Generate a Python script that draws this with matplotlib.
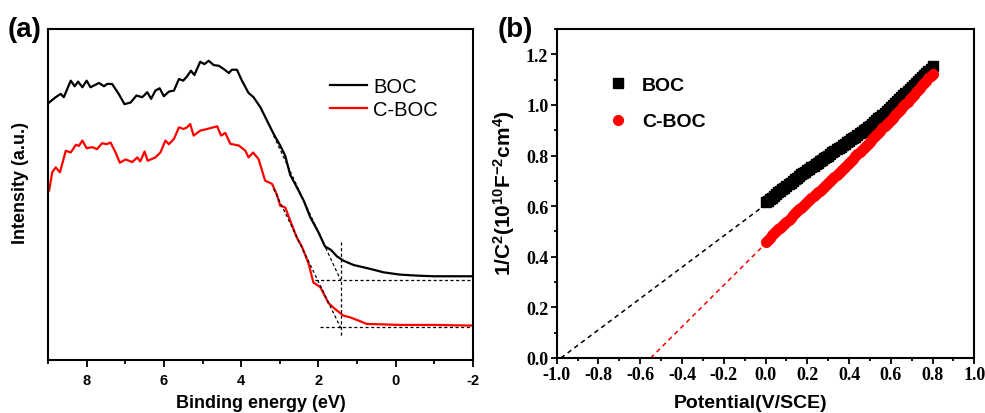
import matplotlib
matplotlib.use("Agg")
import matplotlib.pyplot as plt
from matplotlib.ticker import MultipleLocator, FormatStrFormatter

plt.rcParams["font.family"] = ["Liberation Sans", "DejaVu Sans"]
plt.rcParams["axes.unicode_minus"] = False
plt.rcParams["mathtext.fontset"] = "custom"
plt.rcParams["mathtext.rm"] = "Liberation Sans:bold"
plt.rcParams["mathtext.bf"] = "Liberation Sans:bold"
plt.rcParams["mathtext.default"] = "bf"

# ---- (a) valence band XPS spectra ----
boc_energy = [8.97, 8.80, 8.67, 8.59, 8.41, 8.31, 8.22, 8.11, 8.00, 7.90, 7.68, 7.55,
              7.47, 7.34, 7.17, 7.02, 6.86, 6.71, 6.56, 6.43, 6.33, 6.22, 6.11, 6.00,
              5.87, 5.74, 5.61, 5.50, 5.40, 5.30, 5.21, 5.06, 4.95, 4.84, 4.71, 4.58,
              4.45, 4.32, 4.24, 4.11, 3.98, 3.81, 3.68, 3.50, 3.33, 3.16, 2.99, 2.86,
              2.73, 2.56, 2.38, 2.21, 2.00, 1.83, 1.68, 1.52, 1.35, 1.09, 0.83, 0.58,
              0.32, -0.11, -0.54, -0.97, -1.49, -2.00]
boc_intensity = [0.778, 0.794, 0.804, 0.794, 0.844, 0.827, 0.841, 0.824, 0.844, 0.824,
                 0.837, 0.827, 0.834, 0.834, 0.804, 0.773, 0.778, 0.799, 0.794, 0.809,
                 0.789, 0.814, 0.821, 0.797, 0.811, 0.814, 0.849, 0.844, 0.857, 0.874,
                 0.861, 0.901, 0.894, 0.904, 0.891, 0.889, 0.879, 0.867, 0.877, 0.877,
                 0.844, 0.807, 0.794, 0.763, 0.723, 0.683, 0.648, 0.617, 0.559, 0.522,
                 0.481, 0.431, 0.386, 0.343, 0.333, 0.313, 0.300, 0.287, 0.280, 0.273,
                 0.265, 0.258, 0.255, 0.253, 0.253, 0.253]

cboc_energy = [8.97, 8.89, 8.80, 8.69, 8.54, 8.41, 8.28, 8.20, 8.11, 8.00, 7.85, 7.73,
               7.60, 7.48, 7.38, 7.25, 7.14, 6.99, 6.82, 6.69, 6.61, 6.50, 6.42, 6.22,
               6.09, 5.96, 5.87, 5.74, 5.61, 5.49, 5.40, 5.32, 5.23, 5.06, 4.88, 4.62,
               4.52, 4.41, 4.28, 4.06, 3.89, 3.81, 3.69, 3.55, 3.38, 3.20, 3.07, 2.99,
               2.86, 2.73, 2.56, 2.43, 2.26, 2.13, 1.95, 1.74, 1.57, 1.35, 1.18, 0.96,
               0.75, -0.11, -0.97, -2.00]
cboc_intensity = [0.512, 0.567, 0.582, 0.567, 0.632, 0.627, 0.650, 0.647, 0.663, 0.640,
                  0.643, 0.637, 0.655, 0.652, 0.657, 0.627, 0.596, 0.606, 0.598, 0.612,
                  0.600, 0.630, 0.602, 0.612, 0.627, 0.663, 0.652, 0.668, 0.703, 0.698,
                  0.703, 0.713, 0.678, 0.693, 0.698, 0.706, 0.678, 0.686, 0.653, 0.648,
                  0.632, 0.612, 0.627, 0.607, 0.542, 0.532, 0.498, 0.466, 0.461, 0.421,
                  0.370, 0.343, 0.293, 0.234, 0.220, 0.172, 0.154, 0.134, 0.129, 0.119,
                  0.109, 0.106, 0.106, 0.104]

# band-edge construction lines: (E1, E2), (I1, I2)
edge_boc = ([3.16, 1.42], [0.678, 0.240])
edge_cboc = ([3.16, 1.42], [0.517, 0.096])
base_boc = ([2.08, -2.0], [0.243, 0.243])
base_cboc = ([1.97, -2.0], [0.099, 0.099])
edge_marker = ([1.42, 1.42], [0.357, 0.072])

# ---- (b) Mott-Schottky plots ----
potential = [0.00, 0.01, 0.02, 0.03, 0.04, 0.05, 0.06, 0.07, 0.08, 0.09,
             0.10, 0.11, 0.12, 0.13, 0.14, 0.15, 0.16, 0.17, 0.18, 0.19,
             0.20, 0.21, 0.22, 0.23, 0.24, 0.25, 0.26, 0.27, 0.28, 0.29,
             0.30, 0.31, 0.32, 0.33, 0.34, 0.35, 0.36, 0.37, 0.38, 0.39,
             0.40, 0.41, 0.42, 0.43, 0.44, 0.45, 0.46, 0.47, 0.48, 0.49,
             0.50, 0.51, 0.52, 0.53, 0.54, 0.55, 0.56, 0.57, 0.58, 0.59,
             0.60, 0.61, 0.62, 0.63, 0.64, 0.65, 0.66, 0.67, 0.68, 0.69,
             0.70, 0.71, 0.72, 0.73, 0.74, 0.75, 0.76, 0.77, 0.78, 0.79, 0.80]
ms_boc = [0.615, 0.621, 0.628, 0.634, 0.641, 0.647, 0.654, 0.660, 0.667, 0.673,
          0.680, 0.686, 0.693, 0.699, 0.706, 0.712, 0.719, 0.725, 0.731, 0.736,
          0.742, 0.748, 0.754, 0.759, 0.765, 0.771, 0.777, 0.783, 0.789, 0.794,
          0.800, 0.806, 0.812, 0.818, 0.824, 0.829, 0.835, 0.841, 0.847, 0.852,
          0.858, 0.864, 0.870, 0.875, 0.881, 0.887, 0.893, 0.899, 0.905, 0.911,
          0.918, 0.925, 0.932, 0.939, 0.947, 0.954, 0.962, 0.969, 0.977, 0.984,
          0.992, 0.999, 1.007, 1.014, 1.022, 1.030, 1.038, 1.046, 1.054, 1.062,
          1.070, 1.078, 1.086, 1.094, 1.103, 1.111, 1.119, 1.127, 1.135, 1.143, 1.152]
ms_cboc = [0.460, 0.468, 0.476, 0.484, 0.492, 0.500, 0.508, 0.515, 0.523, 0.531,
           0.539, 0.547, 0.555, 0.563, 0.571, 0.579, 0.587, 0.594, 0.601, 0.609,
           0.616, 0.624, 0.631, 0.639, 0.646, 0.654, 0.661, 0.669, 0.676, 0.684,
           0.691, 0.699, 0.706, 0.714, 0.722, 0.731, 0.739, 0.747, 0.755, 0.764,
           0.772, 0.780, 0.788, 0.797, 0.805, 0.813, 0.821, 0.830, 0.838, 0.847,
           0.855, 0.864, 0.872, 0.881, 0.889, 0.898, 0.907, 0.916, 0.924, 0.933,
           0.941, 0.950, 0.959, 0.968, 0.976, 0.985, 0.994, 1.003, 1.012, 1.022,
           1.031, 1.040, 1.049, 1.059, 1.068, 1.077, 1.086, 1.096, 1.105, 1.114, 1.123]
# flat-band extrapolations
fit_boc = ([-0.98, -0.01], [0.0, 0.600])
fit_cboc = ([-0.55, -0.01], [0.0, 0.444])

fig = plt.figure(figsize=(9.85, 4.14), dpi=100)
ax1 = fig.add_axes([0.0487, 0.128, 0.4315, 0.7995])
ax2 = fig.add_axes([0.5652, 0.1329, 0.424, 0.7947])

# panel a
ax1.plot(boc_energy, boc_intensity, color="black", lw=1.6, label="BOC")
ax1.plot(cboc_energy, cboc_intensity, color="red", lw=1.6, label="C-BOC")
for xs, ys in (edge_boc, edge_cboc, base_boc, base_cboc, edge_marker):
    ax1.plot(xs, ys, color="black", lw=0.9, ls=(0, (2.5, 2)))
ax1.set_xlim(9, -2)
ax1.set_ylim(0, 1)
ax1.xaxis.set_major_locator(MultipleLocator(2))
ax1.xaxis.set_minor_locator(MultipleLocator(1))
ax1.set_yticks([])
ax1.tick_params(axis="x", which="major", direction="out", length=5, width=1.3,
                labelsize=10.5, pad=4)
ax1.tick_params(axis="x", which="minor", direction="out", length=3, width=1.3)
for lab in ax1.get_xticklabels():
    lab.set_fontweight("bold")
for sp in ax1.spines.values():
    sp.set_linewidth(1.5)
ax1.set_xlabel("Binding energy (eV)", fontsize=13, fontweight="bold")
ax1.xaxis.set_label_coords(0.5, -0.103)
ax1.set_ylabel("Intensity (a.u.)", fontsize=13, fontweight="bold")
ax1.yaxis.set_label_coords(-0.045, 0.538)
ax1.legend(loc="upper left", bbox_to_anchor=(0.664, 0.855), frameon=False,
           fontsize=14.5, borderpad=0, borderaxespad=0, handlelength=1.85,
           handletextpad=0.3, labelspacing=0.2)
fig.text(0.008, 0.91, "(a)", fontsize=20, fontweight="bold")

# panel b
ax2.plot(*fit_boc, color="black", lw=1.1, ls=(0, (3, 2.5)))
ax2.plot(*fit_cboc, color="red", lw=1.1, ls=(0, (3, 2.5)))
ax2.plot(potential, ms_boc, ls="none", marker="s", ms=6.5, color="black", label="BOC")
ax2.plot(potential, ms_cboc, ls="none", marker="o", ms=7, color="red", label="C-BOC")
ax2.set_xlim(-1.0, 1.0)
ax2.set_ylim(0, 1.3)
ax2.xaxis.set_major_locator(MultipleLocator(0.2))
ax2.xaxis.set_minor_locator(MultipleLocator(0.1))
ax2.set_yticks([0.0, 0.2, 0.4, 0.6, 0.8, 1.0, 1.2])
ax2.yaxis.set_minor_locator(MultipleLocator(0.1))
ax2.tick_params(which="major", direction="out", length=4, width=1.3, labelsize=13, pad=2)
ax2.tick_params(which="minor", direction="out", length=2.5, width=1.3)
ax2.xaxis.set_major_formatter(FormatStrFormatter("%.1f"))
ax2.yaxis.set_major_formatter(FormatStrFormatter("%.1f"))
for lab in ax2.get_xticklabels() + ax2.get_yticklabels():
    lab.set_fontfamily("Liberation Serif")
    lab.set_fontweight("bold")
for sp in ax2.spines.values():
    sp.set_linewidth(1.5)
ax2.set_xlabel("Potential(V/SCE)", fontsize=14, fontweight="bold")
ax2.xaxis.set_label_coords(0.463, -0.11)
ax2.set_ylabel(r"1/C$^{2}$(10$^{10}$F$^{-2}$cm$^{4}$)", fontsize=15, fontweight="bold")
ax2.yaxis.set_label_coords(-0.095, 0.505)
ax2.legend(loc="upper left", bbox_to_anchor=(0.125, 0.855), frameon=False,
           prop={"size": 14, "weight": "bold"}, borderpad=0, borderaxespad=0,
           handlelength=0.9, handletextpad=0.8, labelspacing=0.95)
fig.text(0.505, 0.91, "(b)", fontsize=20, fontweight="bold")

fig.savefig("out.png", dpi=100)
